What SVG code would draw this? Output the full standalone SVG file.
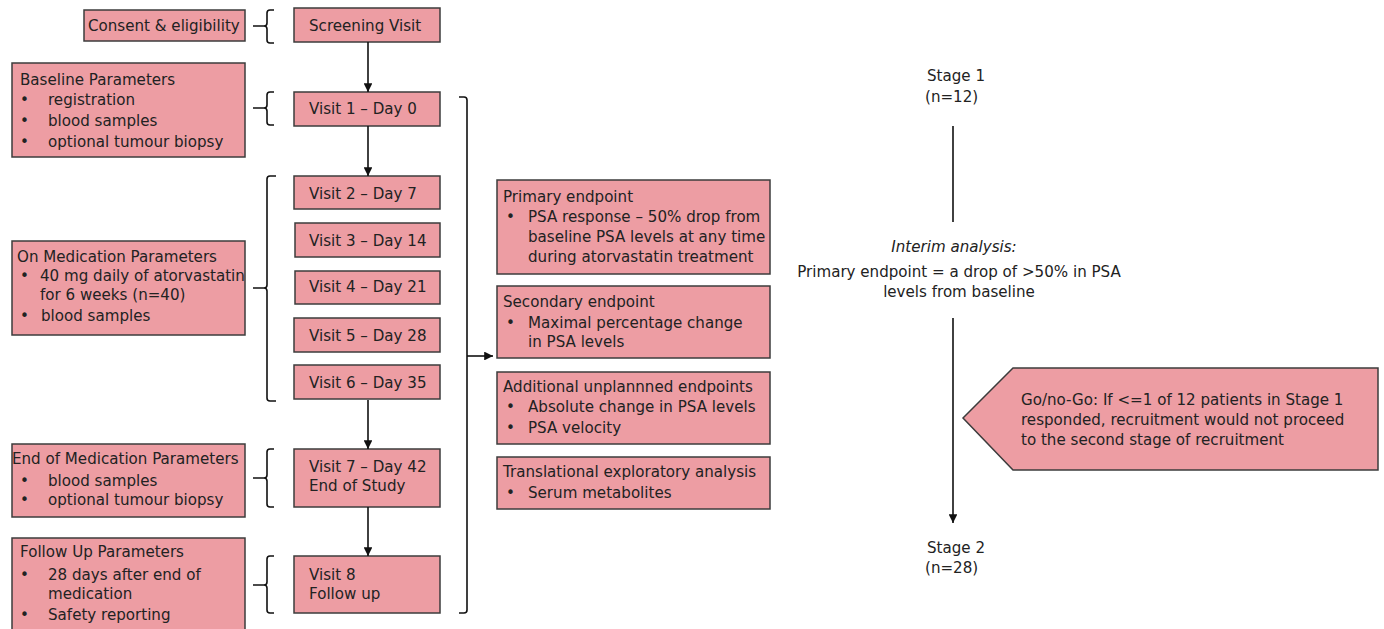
<svg xmlns="http://www.w3.org/2000/svg" width="1384" height="629" viewBox="0 0 1384 629">
<defs>
<style>
.box{fill:#ED9DA3;stroke:#3c3c3c;stroke-width:1.5}
text{font-family:"DejaVu Sans","Liberation Sans",sans-serif;font-size:15.1px;fill:#222}
.it{font-style:italic}
.mid{text-anchor:middle}
.ln{fill:none;stroke:#111;stroke-width:1.6}
</style>
<marker id="ah" viewBox="0 0 10 10" refX="10" refY="5" markerWidth="5.5" markerHeight="5.5" orient="auto" markerUnits="strokeWidth">
<path d="M0,0 L10,5 L0,10 z" fill="#111"/>
</marker>
</defs>

<g id="consent"><rect class="box" x="84" y="10" width="161" height="31"/><text x="88" y="31">Consent &amp; eligibility</text></g>
<g id="screening"><rect class="box" x="294" y="8" width="146" height="34"/><text x="309" y="31">Screening Visit</text></g>

<g id="baseline"><rect class="box" x="12" y="63" width="233" height="94"/>
<text x="20" y="85">Baseline Parameters</text>
<text x="20" y="105">•</text><text x="48" y="105">registration</text>
<text x="20" y="126">•</text><text x="48" y="126">blood samples</text>
<text x="20" y="147">•</text><text x="48" y="147">optional tumour biopsy</text></g>
<g id="visit1"><rect class="box" x="294" y="92" width="146" height="34"/><text x="309" y="114">Visit 1 – Day 0</text></g>

<g id="visit2"><rect class="box" x="294" y="176" width="146" height="33"/><text x="309" y="199">Visit 2 – Day 7</text></g>
<g id="visit3"><rect class="box" x="295" y="223" width="145" height="34"/><text x="309" y="246">Visit 3 – Day 14</text></g>
<g id="visit4"><rect class="box" x="295" y="271" width="145" height="33"/><text x="309" y="292">Visit 4 – Day 21</text></g>
<g id="visit5"><rect class="box" x="294" y="318" width="146" height="34"/><text x="309" y="341">Visit 5 – Day 28</text></g>
<g id="visit6"><rect class="box" x="294" y="365" width="146" height="34"/><text x="309" y="388">Visit 6 – Day 35</text></g>

<g id="onmed"><rect class="box" x="12" y="241" width="233" height="94"/>
<text x="17" y="262">On Medication Parameters</text>
<text x="20" y="281">•</text><text x="40" y="281">40 mg daily of atorvastatin</text>
<text x="40" y="300">for 6 weeks (n=40)</text>
<text x="20" y="321">•</text><text x="41" y="321">blood samples</text></g>

<g id="endmed"><rect class="box" x="12" y="444" width="233" height="73"/>
<text x="12" y="464">End of Medication Parameters</text>
<text x="20" y="486">•</text><text x="48" y="486">blood samples</text>
<text x="20" y="505">•</text><text x="48" y="505">optional tumour biopsy</text></g>
<g id="visit7"><rect class="box" x="294" y="449" width="146" height="58"/><text x="309" y="472">Visit 7 – Day 42</text><text x="309" y="491">End of Study</text></g>

<g id="followup"><rect class="box" x="12" y="538" width="233" height="102"/>
<text x="20" y="557">Follow Up Parameters</text>
<text x="20" y="580">•</text><text x="48" y="580">28 days after end of</text>
<text x="48" y="599">medication</text>
<text x="20" y="620">•</text><text x="48" y="620">Safety reporting</text></g>
<g id="visit8"><rect class="box" x="294" y="556" width="146" height="57"/><text x="309" y="580">Visit 8</text><text x="309" y="599">Follow up</text></g>

<g id="primary"><rect class="box" x="497" y="180" width="273" height="94"/>
<text x="503" y="202">Primary endpoint</text>
<text x="506" y="222">•</text><text x="528" y="222">PSA response – 50% drop from</text>
<text x="528" y="242">baseline PSA levels at any time</text>
<text x="528" y="262">during atorvastatin treatment</text></g>
<g id="secondary"><rect class="box" x="497" y="286" width="273" height="72"/>
<text x="503" y="307">Secondary endpoint</text>
<text x="506" y="328">•</text><text x="528" y="328">Maximal percentage change</text>
<text x="528" y="347">in PSA levels</text></g>
<g id="additional"><rect class="box" x="497" y="372" width="273" height="72"/>
<text x="503" y="392">Additional unplannned endpoints</text>
<text x="506" y="412">•</text><text x="528" y="412">Absolute change in PSA levels</text>
<text x="506" y="433">•</text><text x="528" y="433">PSA velocity</text></g>
<g id="translational"><rect class="box" x="497" y="457" width="273" height="52"/>
<text x="503" y="477">Translational exploratory analysis</text>
<text x="506" y="498">•</text><text x="528" y="498">Serum metabolites</text></g>

<g id="stage1"><text x="927" y="81">Stage 1</text><text x="925" y="102">(n=12)</text></g>
<g id="interim"><text class="it mid" x="954" y="252">Interim analysis:</text>
<text class="mid" x="959" y="277">Primary endpoint = a drop of &gt;50% in PSA</text>
<text class="mid" x="959" y="297">levels from baseline</text></g>
<g id="stage2"><text x="927" y="553">Stage 2</text><text x="925" y="573">(n=28)</text></g>
<g id="gonogo"><path class="box" d="M963,418 L1013,368 L1378,368 L1378,470 L1013,470 Z"/>
<text x="1021" y="405">Go/no-Go: If &lt;=1 of 12 patients in Stage 1</text>
<text x="1021" y="425">responded, recruitment would not proceed</text>
<text x="1021" y="445">to the second stage of recruitment</text></g>

<g id="connectors">
<line class="ln" x1="368" y1="42" x2="368" y2="92" marker-end="url(#ah)"/>
<line class="ln" x1="368" y1="126" x2="368" y2="176" marker-end="url(#ah)"/>
<line class="ln" x1="368" y1="400" x2="368" y2="449" marker-end="url(#ah)"/>
<line class="ln" x1="368" y1="507" x2="368" y2="556" marker-end="url(#ah)"/>
<path class="ln" d="M274,10 L270,10 Q267,10 267,13 L267,23 Q267,26 264,26 L253,26 M264,26 Q267,26 267,29 L267,40 Q267,43 270,43 L274,43"/>
<path class="ln" d="M274,92 L270,92 Q267,92 267,95 L267,105 Q267,108 264,108 L253,108 M264,108 Q267,108 267,111 L267,122 Q267,125 270,125 L274,125"/>
<path class="ln" d="M276,176 L270,176 Q267,176 267,179 L267,285 Q267,288 264,288 L253,288 M264,288 Q267,288 267,291 L267,398 Q267,401 270,401 L276,401"/>
<path class="ln" d="M274,449 L270,449 Q267,449 267,452 L267,475 Q267,478 264,478 L253,478 M264,478 Q267,478 267,481 L267,504 Q267,507 270,507 L274,507"/>
<path class="ln" d="M274,556 L270,556 Q267,556 267,559 L267,582 Q267,585 264,585 L253,585 M264,585 Q267,585 267,588 L267,610 Q267,613 270,613 L274,613"/>
<path class="ln" d="M459,97 L464,97 Q467,97 467,100 L467,610 Q467,613 464,613 L459,613"/>
<line class="ln" x1="467" y1="356" x2="493" y2="356" marker-end="url(#ah)"/>
<line class="ln" x1="953" y1="126" x2="953" y2="222"/>
<line class="ln" x1="953" y1="318" x2="953" y2="523" marker-end="url(#ah)"/>
</g>
</svg>
